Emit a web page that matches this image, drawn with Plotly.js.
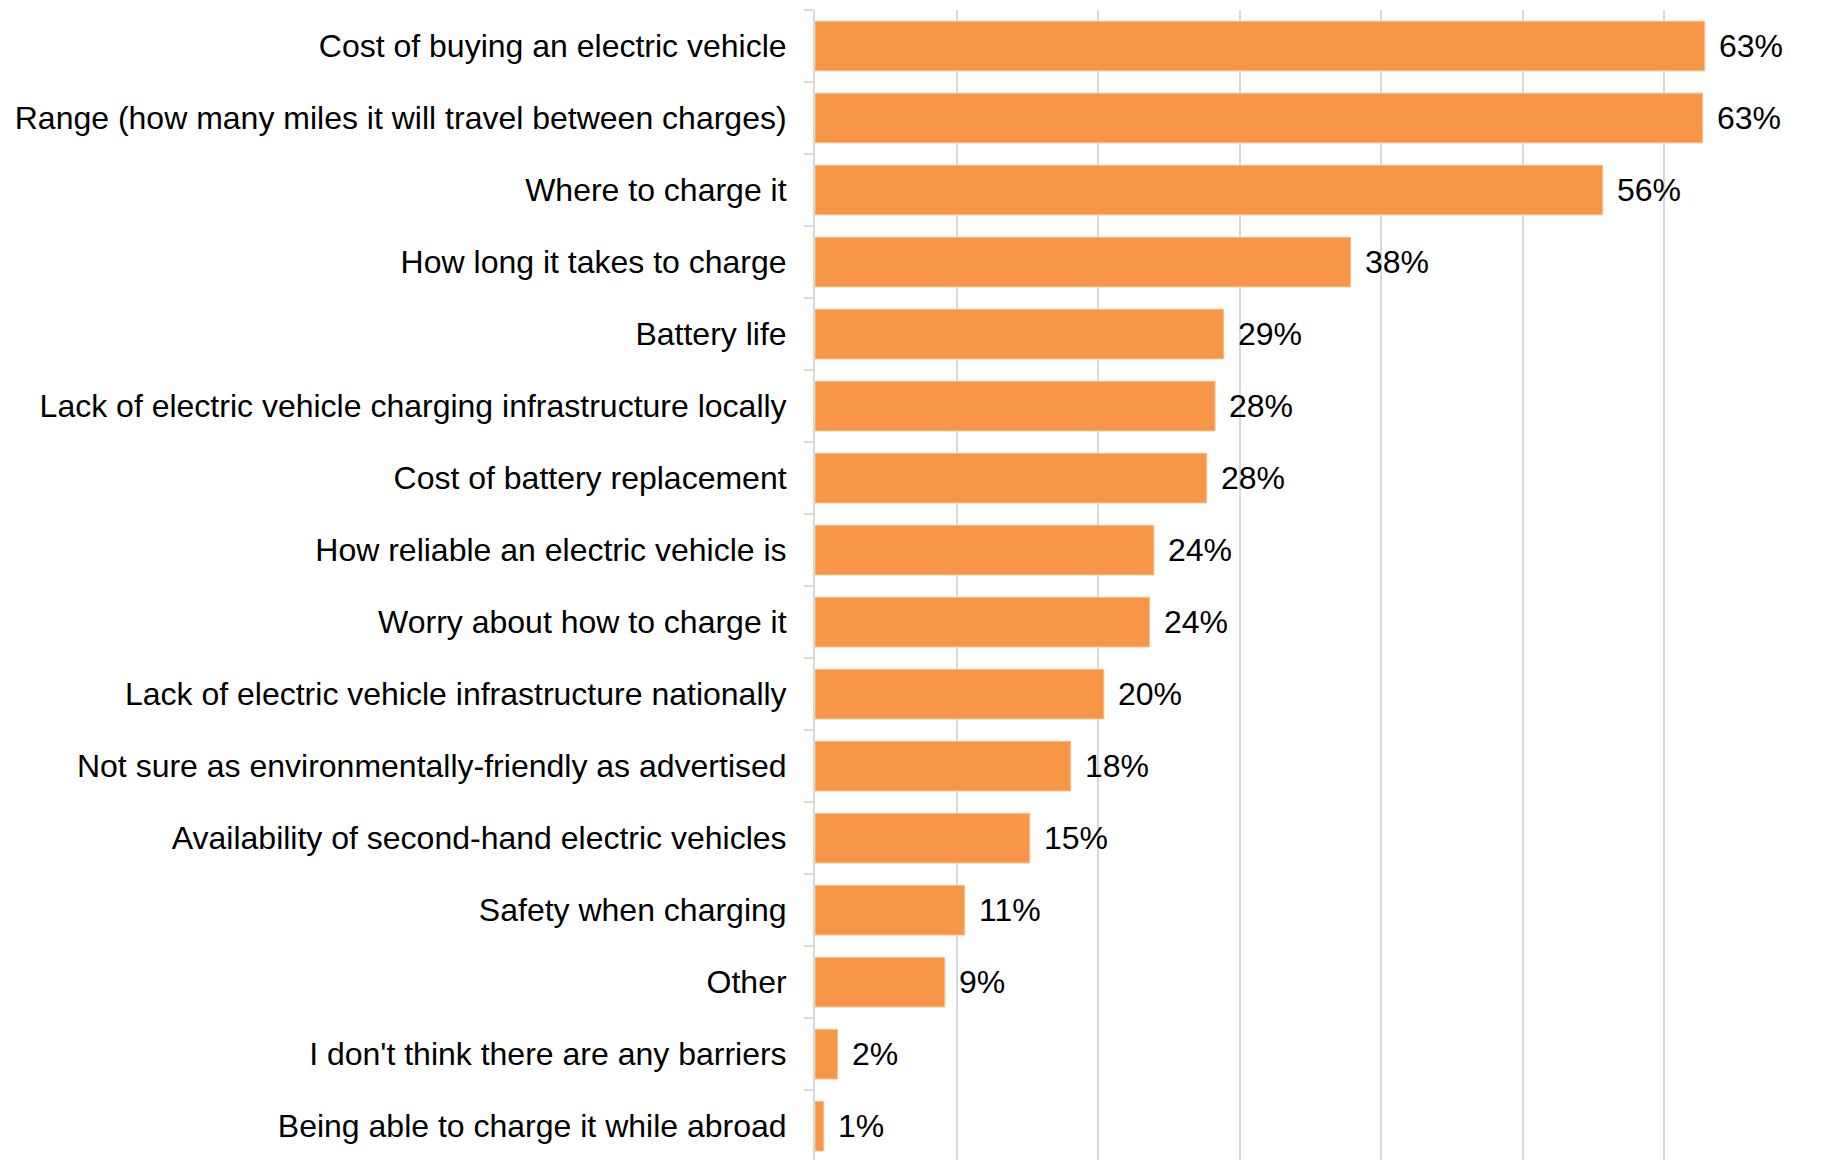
<!DOCTYPE html>
<html>
<head>
<meta charset="utf-8">
<script src="https://cdn.plot.ly/plotly-3.0.1.min.js"></script>
<style>html,body{margin:0;padding:0;background:#fff;}#chart{width:1821px;height:1160px;}</style>
</head>
<body>
<div id="chart"></div>
<script>
const categories = [
  "Cost of buying an electric vehicle",
  "Range (how many miles it will travel between charges)",
  "Where to charge it",
  "How long it takes to charge",
  "Battery life",
  "Lack of electric vehicle charging infrastructure locally",
  "Cost of battery replacement",
  "How reliable an electric vehicle is",
  "Worry about how to charge it",
  "Lack of electric vehicle infrastructure nationally",
  "Not sure as environmentally-friendly as advertised",
  "Availability of second-hand electric vehicles",
  "Safety when charging",
  "Other",
  "I don't think there are any barriers",
  "Being able to charge it while abroad"
];
const values = [62.85, 62.7, 55.64, 37.83, 28.86, 28.26, 27.67, 23.94, 23.63, 20.4, 18.06, 15.17, 10.57, 9.17, 1.6, 0.61];
const labels = ["63%", "63%", "56%", "38%", "29%", "28%", "28%", "24%", "24%", "20%", "18%", "15%", "11%", "9%", "2%", "1%"];

const FONT = "Liberation Sans, Arial, sans-serif";
const trace = {
  type: "bar",
  orientation: "h",
  x: values,
  y: categories,
  marker: {color: "#F79646", line: {color: "#FAC08F", width: 1}},
  hoverinfo: "skip"
};
const annotations = values.map((v, i) => ({
  x: v, y: categories[i], xref: "x", yref: "y",
  text: labels[i], showarrow: false, xanchor: "left", xshift: 12,
  font: {family: FONT, size: 32, color: "#000"}
}));
const layout = {
  width: 1821, height: 1160,
  margin: {l: 815, r: 15, t: 10, b: 0},
  paper_bgcolor: "#fff", plot_bgcolor: "#fff",
  showlegend: false,
  bargap: 0.31,
  font: {family: FONT, size: 32, color: "#000"},
  xaxis: {
    range: [0, 70], dtick: 10, tick0: 0,
    showticklabels: false, showgrid: true, gridcolor: "#d9d9d9", gridwidth: 2,
    zeroline: false, showline: false, ticks: ""
  },
  yaxis: {
    type: "category", autorange: false, range: [15.47, -0.5],
    showline: true, linecolor: "#d9d9d9", linewidth: 2,
    ticks: "outside", tickson: "boundaries", ticklen: 9, tickcolor: "#d9d9d9", tickwidth: 2,
    ticklabelstandoff: 20,
    showgrid: false, zeroline: false,
    tickfont: {family: FONT, size: 32, color: "#000"}
  },
  annotations: annotations
};
Plotly.newPlot("chart", [trace], layout, {staticPlot: true, displayModeBar: false});
</script>
</body>
</html>
